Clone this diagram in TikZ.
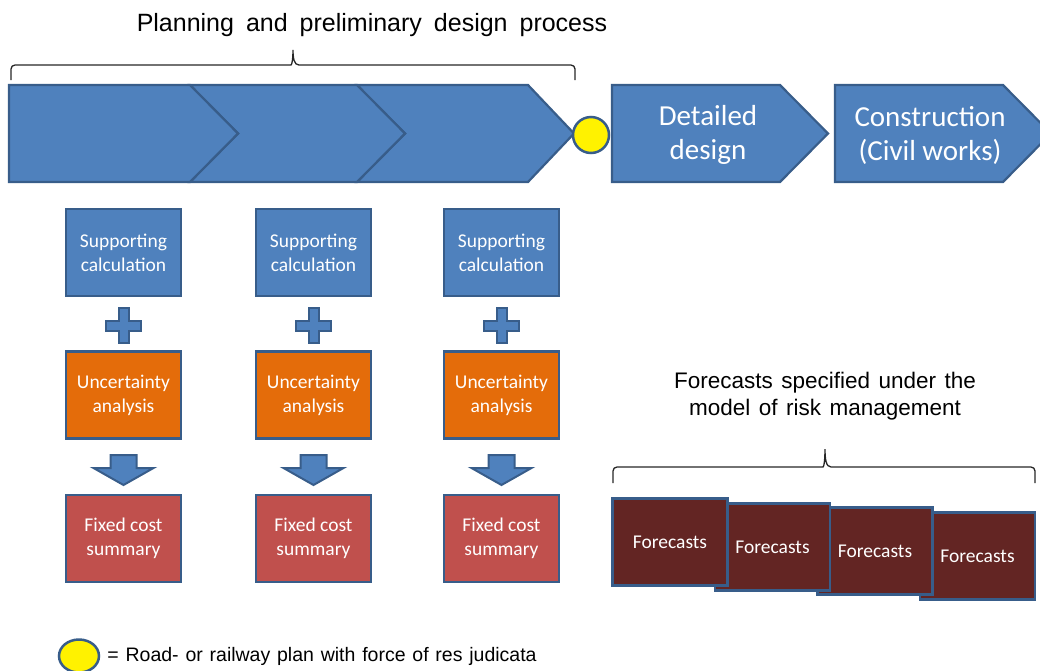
\documentclass[tikz,border=0pt]{standalone}
\usepackage{fontspec}
\setmainfont{Liberation Sans}
\newfontfamily\calib{Carlito}
\usetikzlibrary{positioning, shapes.geometric}
\definecolor{stageblue}{HTML}{4F81BD}
\definecolor{edgeblue}{HTML}{385D8A}
\definecolor{uncorange}{HTML}{E46C0A}
\definecolor{costred}{HTML}{C0504D}
\definecolor{castbrown}{HTML}{632523}
\tikzset{
  box/.style={draw=edgeblue, line width=2.2pt, minimum width=115pt, minimum height=87pt,
    inner sep=0pt, text=white, align=center, font=\calib\fontsize{19.5}{24}\selectfont},
  supbox/.style={box, fill=stageblue},
  uncbox/.style={box, fill=uncorange},
  costbox/.style={box, fill=costred},
  castbox/.style={box, fill=castbrown},
  stage/.style={draw=edgeblue, line width=2.2pt, fill=stageblue},
  stagetext/.style={text=white, align=center, font=\calib\fontsize{29}{34}\selectfont},
  sign/.style={draw=edgeblue, line width=2pt, fill=stageblue},
  plan/.style={draw=edgeblue, line width=2.5pt, fill=yellow, inner sep=0pt},
  bracket/.style={draw=black!85, line width=1.3pt},
}

\begin{document}
\begin{tikzpicture}[x=1pt, y=-1pt]
\clip (0,0) rectangle (1040,670);

% planning and preliminary design
\draw[stage] (357,85) -- (528,85) -- (574,133.5) -- (528,182) -- (357,182) -- (405,133.5) -- cycle;
\draw[stage] (190,85) -- (357,85) -- (405,133.5) -- (357,182) -- (190,182) -- (238,133.5) -- cycle;
\draw[stage] (9,85) -- (190,85) -- (238,133.5) -- (190,182) -- (9,182) -- cycle;
\node[font={\fontsize{25}{30}\selectfont\spaceskip=12pt\relax}] (planhead) at (372,25)
  {Planning and preliminary design process};
\draw[bracket] (11,80) [rounded corners=4pt] |- (287,65) [sharp corners]
  .. controls (292,65) and (293,58) .. (293,50) .. controls (293,58) and (294,65) .. (299,65)
  [rounded corners=4pt] -| (575,80);

% later stages
\draw[stage] (612,85) -- (780,85) -- (828,133.5) -- (780,182) -- (612,182) -- cycle;
\draw[stage] (835,85) -- (1003,85) -- (1051,133.5) -- (1003,182) -- (835,182) -- cycle;
\node[plan, circle, minimum size=36pt] (plan) at (591,135) {};
\node[stagetext] (detail) at (708,135) {Detailed\\design};
\node[stagetext] (constr) at (930,135) {Construction\\(Civil works)};

% supporting calculations
\foreach \x/\n in {123.5/1, 313.5/2, 501.5/3} {
  \node[supbox] (sup\n) at (\x,252.5) {Supporting\\calculation};
  \node[uncbox] (unc\n) at (\x,395) {Uncertainty\\analysis};
  \node[costbox] (cost\n) at (\x,538.5) {Fixed cost\\summary};
  \draw[sign] (\x,325.5) ++(-5,-17.5) -- ++(10,0) -- ++(0,12.5) -- ++(12.5,0) -- ++(0,10)
    -- ++(-12.5,0) -- ++(0,12.5) -- ++(-10,0) -- ++(0,-12.5) -- ++(-12.5,0) -- ++(0,-10)
    -- ++(12.5,0) -- cycle;
  \draw[sign] (\x,455) ++(-13,0) -- ++(26,0) -- ++(0,13) -- ++(17,0) -- (\x,485)
    -- ++(-30,-17) -- ++(17,0) -- cycle;
}

% forecasts
\node[castbox] (cast4) at (977.5,556) {Forecasts};
\node[castbox] (cast3) at (875,551) {Forecasts};
\node[castbox] (cast2) at (772.5,547) {Forecasts};
\node[castbox] (cast1) at (670,542) {Forecasts};
\node[align=center, font={\fontsize{22.5}{27}\selectfont\spaceskip=8.5pt\relax}] (casthead) at (825,396)
  {Forecasts specified under the\\model of risk management};
\draw[bracket] (613,483) [rounded corners=4pt] |- (819,467) [sharp corners]
  .. controls (824,467) and (825,459) .. (825,449) .. controls (825,459) and (826,467) .. (831,467)
  [rounded corners=4pt] -| (1035,483);

% legend
\node[plan, ellipse, minimum width=40pt, minimum height=33pt] (key) at (79,656) {};
\node[right=7pt of key, inner sep=0pt, font={\fontsize{19.5}{23}\selectfont\spaceskip=6.8pt\relax}] (keytext)
  {= Road- or railway plan with force of res judicata};
\end{tikzpicture}
\end{document}
